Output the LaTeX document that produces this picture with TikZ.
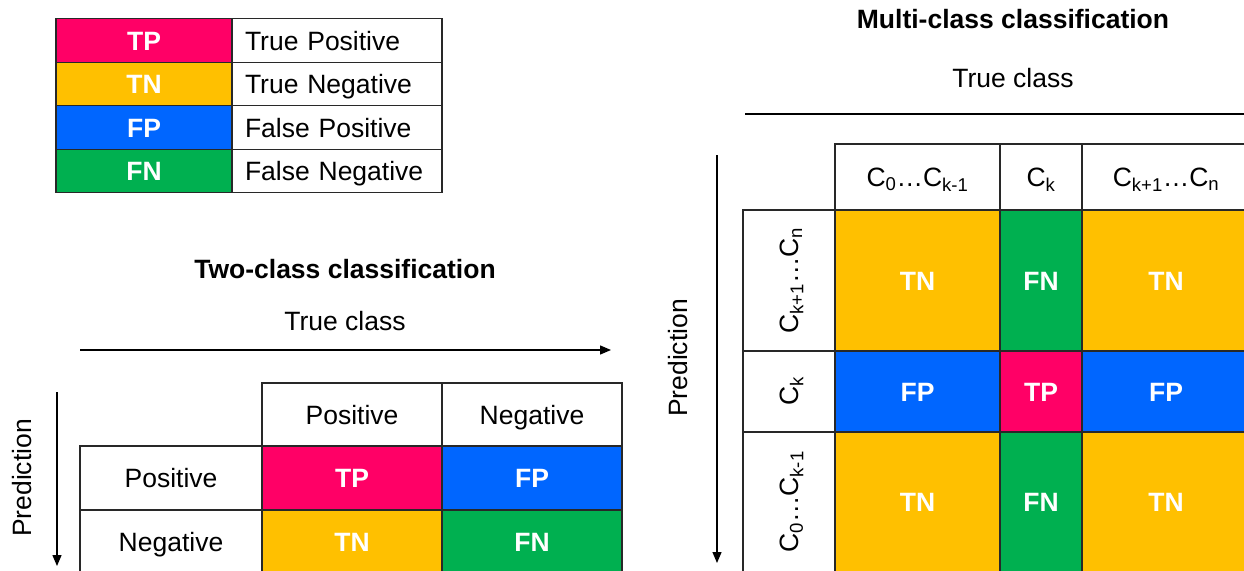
\documentclass[tikz,border=0pt]{standalone}
\usepackage{fontspec}
\setmainfont{Liberation Sans}
\usetikzlibrary{arrows.meta}
\definecolor{tpc}{RGB}{255,0,102}
\definecolor{tnc}{RGB}{255,192,0}
\definecolor{fpc}{RGB}{0,102,255}
\definecolor{fnc}{RGB}{0,176,80}
\definecolor{edgec}{RGB}{40,40,40}
\begin{document}
\begin{tikzpicture}[x=1pt,y=-1pt,
  txt/.style={font=\fontsize{26.5}{30}\selectfont, text height=19pt, text depth=0pt},
  ttl/.style={font=\fontsize{26.5}{30}\selectfont\bfseries, text height=19pt, text depth=0pt},
  cellbox/.style={draw=edgec, line width=1.3pt, inner sep=0pt, font=\fontsize{26.5}{30}\selectfont, text height=19pt, text depth=0pt},
  colbox/.style={cellbox, text=white, font=\fontsize{26.5}{30}\selectfont\bfseries},
  axisarrow/.style={line width=1.3pt, -{Triangle[length=11pt,width=9pt]}}]
\useasboundingbox (0,0) rectangle (1244,570);
\clip (0,0) rectangle (1244,570);

% Legend
\node[colbox, fill=tpc, minimum width=176pt, minimum height=43.5pt] (ltp) at (144,40.5) {TP};
\node[colbox, fill=tnc, minimum width=176pt, minimum height=43.5pt] (ltn) at (144,84) {TN};
\node[colbox, fill=fpc, minimum width=176pt, minimum height=43.5pt] (lfp) at (144,127.5) {FP};
\node[colbox, fill=fnc, minimum width=176pt, minimum height=43.5pt] (lfn) at (144,171) {FN};
\node[cellbox, minimum width=210pt, minimum height=43.5pt, inner xsep=13pt, text width=184pt, align=left] (dtp) at (337,40.5) {True Positive};
\node[cellbox, minimum width=210pt, minimum height=43.5pt, inner xsep=13pt, text width=184pt, align=left] (dtn) at (337,84) {True Negative};
\node[cellbox, minimum width=210pt, minimum height=43.5pt, inner xsep=13pt, text width=184pt, align=left] (dfp) at (337,127.5) {False Positive};
\node[cellbox, minimum width=210pt, minimum height=43.5pt, inner xsep=13pt, text width=184pt, align=left] (dfn) at (337,171) {False Negative};

% Two-class
\node[ttl] (t2) at (345,269) {Two-class classification};
\node[txt] (tc2) at (345,321) {True class};
\coordinate (a2s) at (80,350);
\coordinate (a2e) at (611,350);
\draw[axisarrow] (a2s) -- (a2e);
\node[txt, rotate=90] (p2) at (22,478) {Prediction};
\coordinate (b2s) at (57,392);
\coordinate (b2e) at (57,566);
\draw[axisarrow] (b2s) -- (b2e);

\node[cellbox, minimum width=180pt, minimum height=63pt] (h2p) at (352,414.5) {Positive};
\node[cellbox, minimum width=180pt, minimum height=63pt] (h2n) at (532,414.5) {Negative};
\node[cellbox, minimum width=182pt, minimum height=64pt] (r2p) at (171,478) {Positive};
\node[cellbox, minimum width=182pt, minimum height=64pt] (r2n) at (171,542) {Negative};
\node[colbox, fill=tpc, minimum width=180pt, minimum height=64pt] (c2tp) at (352,478) {TP};
\node[colbox, fill=fpc, minimum width=180pt, minimum height=64pt] (c2fp) at (532,478) {FP};
\node[colbox, fill=tnc, minimum width=180pt, minimum height=64pt] (c2tn) at (352,542) {TN};
\node[colbox, fill=fnc, minimum width=180pt, minimum height=64pt] (c2fn) at (532,542) {FN};

% Multi-class
\node[ttl] (tm) at (1013,19) {Multi-class classification};
\node[txt] (tcm) at (1013,78) {True class};
\coordinate (ams) at (745,114);
\coordinate (ame) at (1262,114);
\draw[axisarrow] (ams) -- (ame);
\node[txt, rotate=90] (pm) at (678,358) {Prediction};
\coordinate (bms) at (717,155);
\coordinate (bme) at (717,563);
\draw[axisarrow] (bms) -- (bme);

\node[cellbox, minimum width=165pt, minimum height=66pt] (hm1) at (917.5,177) {C\textsubscript{0}…C\textsubscript{k-1}};
\node[cellbox, minimum width=82pt, minimum height=66pt] (hm2) at (1041,177) {C\textsubscript{k}};
\node[cellbox, minimum width=168pt, minimum height=66pt] (hm3) at (1166,177) {C\textsubscript{k+1}…C\textsubscript{n}};

\node[cellbox, minimum width=92pt, minimum height=141pt] (rm1) at (789,280.5) {};
\node[txt, rotate=90] (rm1t) at (rm1) {C\textsubscript{k+1}…C\textsubscript{n}};
\node[cellbox, minimum width=92pt, minimum height=81pt] (rm2) at (789,391.5) {};
\node[txt, rotate=90] (rm2t) at (rm2) {C\textsubscript{k}};
\node[cellbox, minimum width=92pt, minimum height=140pt] (rm3) at (789,502) {};
\node[txt, rotate=90] (rm3t) at (rm3) {C\textsubscript{0}…C\textsubscript{k-1}};

\node[colbox, fill=tnc, minimum width=165pt, minimum height=141pt] (m11) at (917.5,280.5) {TN};
\node[colbox, fill=fnc, minimum width=82pt, minimum height=141pt] (m12) at (1041,280.5) {FN};
\node[colbox, fill=tnc, minimum width=168pt, minimum height=141pt] (m13) at (1166,280.5) {TN};
\node[colbox, fill=fpc, minimum width=165pt, minimum height=81pt] (m21) at (917.5,391.5) {FP};
\node[colbox, fill=tpc, minimum width=82pt, minimum height=81pt] (m22) at (1041,391.5) {TP};
\node[colbox, fill=fpc, minimum width=168pt, minimum height=81pt] (m23) at (1166,391.5) {FP};
\node[colbox, fill=tnc, minimum width=165pt, minimum height=140pt] (m31) at (917.5,502) {TN};
\node[colbox, fill=fnc, minimum width=82pt, minimum height=140pt] (m32) at (1041,502) {FN};
\node[colbox, fill=tnc, minimum width=168pt, minimum height=140pt] (m33) at (1166,502) {TN};
\end{tikzpicture}
\end{document}
